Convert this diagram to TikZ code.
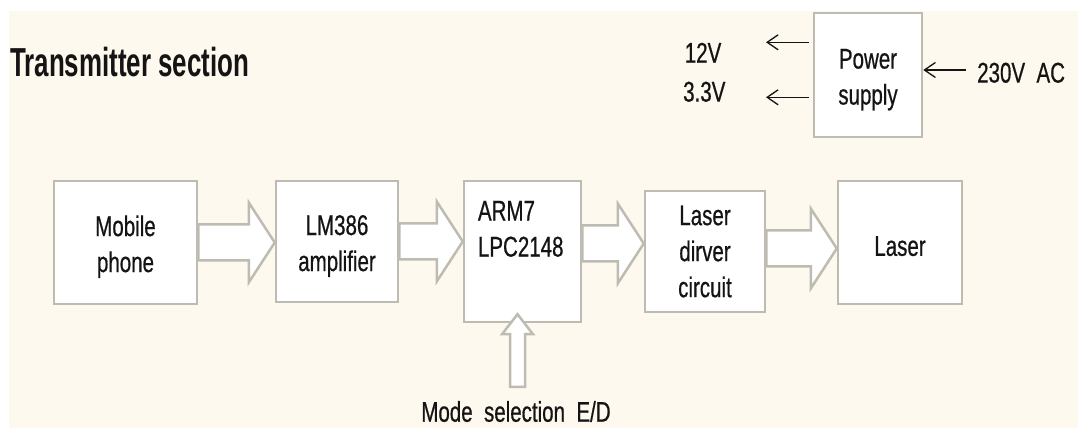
\documentclass[tikz,border=0pt]{standalone}
\usepackage{fontspec}
\setmainfont{Liberation Sans}[FakeStretch=0.72,FakeBold=0.6]
\newfontfamily\headfont{Liberation Sans}[FakeStretch=0.64]
\usetikzlibrary{arrows.meta,calc}
\definecolor{cream}{HTML}{FEF9EE}
\definecolor{edge}{HTML}{BEBCB2}
\definecolor{ink}{HTML}{141414}

\begin{document}
\begin{tikzpicture}[x=1pt,y=1pt,>={Straight Barb[length=11pt,width=15pt]},
  font=\fontsize{28.5pt}{36pt}\selectfont,
  every node/.style={text=ink,inner sep=0pt},
  blk/.style={draw=edge,line width=2.5pt,fill=white,align=center,execute at begin node=\rule{0pt}{27pt}},
  sig/.style={->,draw=ink,line width=1.3pt},
  fat/.style={draw=edge,line width=2.5pt,fill=white,
    to path={let \p1=(\tikztostart),\p2=(\tikztotarget) in
      (\x1,\y1+18pt) -- (\x2-26pt,\y1+18pt) -- (\x2-26pt,\y1+40pt) -- (\x2,\y1)
      -- (\x2-26pt,\y1-40pt) -- (\x2-26pt,\y1-18pt) -- (\x1,\y1-18pt) -- cycle}},
  fatup/.style={draw=edge,line width=2.5pt,fill=white,
    to path={let \p1=(\tikztostart),\p2=(\tikztotarget) in
      (\x1-7.5pt,\y1) -- (\x1-7.5pt,\y2-20pt) -- (\x1-15.5pt,\y2-20pt) -- (\x1,\y2)
      -- (\x1+15.5pt,\y2-20pt) -- (\x1+7.5pt,\y2-20pt) -- (\x1+7.5pt,\y1) -- cycle}}]
\useasboundingbox (0,0) rectangle (1078,428);
\fill[cream] (9,0) rectangle (1078,417);

\node[anchor=base west,font=\headfont\bfseries\fontsize{40.5pt}{44pt}\selectfont] (title) at (10,351) {Transmitter section};

\node[blk,text height=65pt,minimum width=143pt,minimum height=123pt] (mob) at (125.5,185.5) {Mobile\\phone};
\node[blk,text height=65pt,minimum width=122pt,minimum height=121pt] (lm) at (337,186.5) {LM386\\amplifier};
\node[blk,minimum width=117pt,minimum height=141pt,
  label={[anchor=north west,align=left,xshift=15pt,yshift=-21pt]north west:ARM7\\LPC2148}] (arm) at (522.5,176.5) {};
\node[blk,minimum width=120pt,minimum height=121pt] (drv) at (705,176.5) {Laser\\dirver\\circuit};
\node[blk,minimum width=124pt,minimum height=123pt] (las) at (900,185.5) {Laser};
\node[blk,text height=65pt,minimum width=108pt,minimum height=124pt] (ps) at (868,353) {Power\\supply};

\node[anchor=base west] (v12) at (684.6,365.3) {12V};
\node[anchor=base west] (v33) at (683,326.4) {3.3V};
\node[anchor=base west] (ac) at (977,345.4) {230V\ \ AC};
\node[anchor=base] (mode) at (516,6.3) {Mode\ \ selection\ \ E/D};

\draw[fat] (mob.east) to (lm.west);
\draw[fat] (lm.east) to (arm.west);
\draw[fat] ([yshift=8pt]arm.east) to (drv.west);
\draw[fat] ([yshift=3pt]drv.east) to (las.west);
\draw[fatup] ([xshift=1.5pt,yshift=14pt]mode.north) to ([yshift=9pt]arm.south);

\coordinate (o12) at (766,385.7);
\coordinate (o33) at (766,330.7);
\coordinate (acin) at (966,358);
\draw[sig] ([xshift=-4pt]ps.west |- o12) -- (o12);
\draw[sig] ([xshift=-4pt]ps.west |- o33) -- (o33);
\draw[sig] (acin) -- (acin -| ps.east);
\end{tikzpicture}
\end{document}
